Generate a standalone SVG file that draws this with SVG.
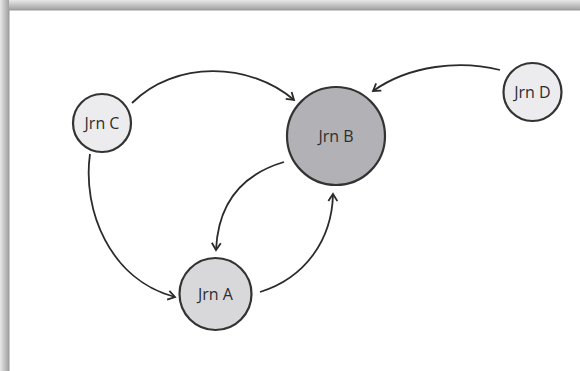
<svg xmlns="http://www.w3.org/2000/svg" width="580" height="371" viewBox="0 0 580 371">
<defs>
<linearGradient id="gt" x1="0" y1="0" x2="0" y2="1"><stop offset="0" stop-color="#e8e8e8"/><stop offset="1" stop-color="#a0a0a0"/></linearGradient>
<linearGradient id="gl" x1="0" y1="0" x2="1" y2="0"><stop offset="0" stop-color="#e8e8e8"/><stop offset="1" stop-color="#a0a0a0"/></linearGradient>
<marker id="ah" markerUnits="userSpaceOnUse" markerWidth="14" markerHeight="14" viewBox="-10 -7 12 14" refX="0" refY="0" orient="auto">
<path d="M-7,-4.5 L0,0 L-7,4.5" fill="none" stroke="#2b2b2b" stroke-width="1.8"/>
</marker>
<style>
.n{stroke:#333;stroke-width:2.2}
.t{font-family:"Open Sans","Liberation Sans",sans-serif;font-size:16px;fill:#2e2e2e;text-anchor:middle}
.c{fill:none;stroke:#2b2b2b;stroke-width:1.8;marker-end:url(#ah)}
</style>
</defs>
<rect width="580" height="371" fill="#fff"/>
<rect x="0" y="0" width="580" height="10" fill="url(#gt)"/>
<rect x="0" y="0" width="9" height="371" fill="url(#gl)"/>
<rect x="9" y="10" width="571" height="361" fill="#fff"/>
<path d="M9,371 V10 H580" fill="none" stroke="#9a9a9a" stroke-width="1"/>
<g id="connectors">
<path class="c" d="M132,103 C175,60 250,62 294,100"/>
<path class="c" d="M500,70 C460,60 410,65 373,91"/>
<path class="c" d="M284,162 C240,175 218,205 216,250"/>
<path class="c" d="M260,292 C305,278 332,240 333,194"/>
<path class="c" d="M90,154 C82,210 110,280 175,297"/>
</g>
<g id="jrnC"><circle class="n" cx="102" cy="123" r="29" fill="#ececee"/><text class="t" x="102" y="129">Jrn C</text></g>
<g id="jrnB"><circle class="n" cx="336" cy="136" r="49" fill="#b2b2b6"/><text class="t" x="336" y="142">Jrn B</text></g>
<g id="jrnA"><circle class="n" cx="215.5" cy="294" r="36" fill="#d8d8da"/><text class="t" x="215.5" y="300">Jrn A</text></g>
<g id="jrnD"><circle class="n" cx="532.5" cy="92" r="29" fill="#ececee"/><text class="t" x="532.5" y="98">Jrn D</text></g>
</svg>
